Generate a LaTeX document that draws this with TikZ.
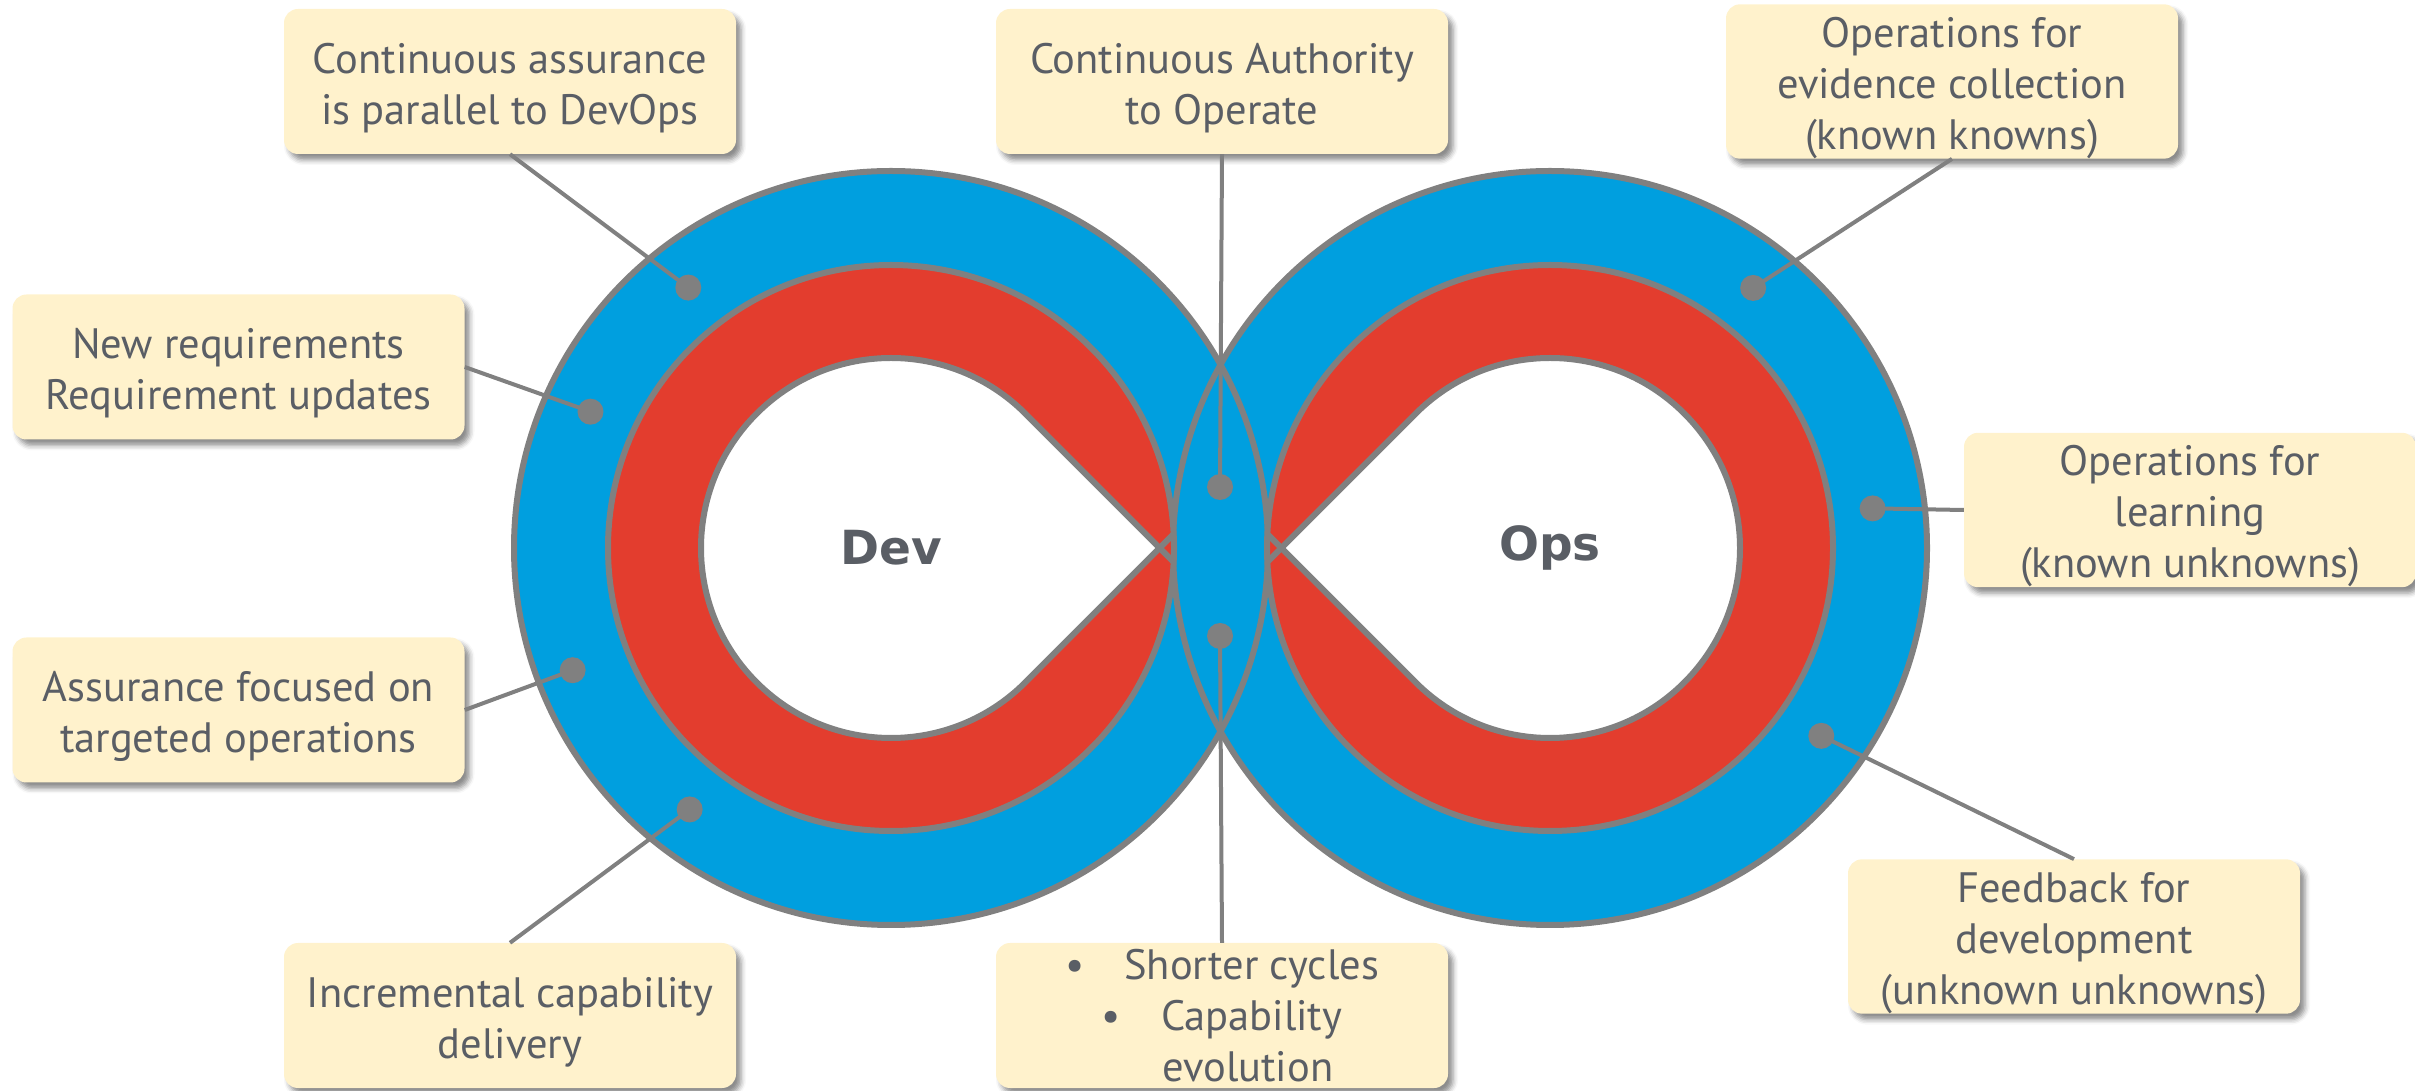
\documentclass[tikz,border=0pt]{standalone}
\usepackage{fontspec}
\setmainfont{PT Sans}
\newfontfamily\hubfont{DejaVu Sans}
\usetikzlibrary{shadows.blur,calc}
\definecolor{ringblue}{HTML}{009FDF}
\definecolor{ringred}{HTML}{E33D2E}
\definecolor{edgegray}{HTML}{808080}
\definecolor{notefill}{HTML}{FFF2CC}
\definecolor{notetext}{HTML}{5A5E65}
% taller first line, so the text sits a little low in its box
\newcommand\firstline{\rule{0pt}{43pt}}
\tikzset{
  ringedge/.style={draw=edgegray, line width=6pt, line join=round},
  lead/.style={draw=edgegray, line width=4pt},
  ringdot/.style={circle, fill=edgegray, minimum size=26pt, inner sep=0pt},
  note/.style={rounded corners=14pt, fill=notefill, text=notetext, align=center,
    font=\fontsize{42.5}{51}\selectfont, minimum width=452pt, minimum height=145pt,
    inner sep=0pt,
    blur shadow={shadow xshift=5pt, shadow yshift=-6pt, shadow blur radius=5pt, shadow opacity=45}},
  hub/.style={font=\hubfont\bfseries\fontsize{47}{47}\selectfont, text=notetext}
}
\begin{document}
\begin{tikzpicture}[x=1pt,y=1pt]
\useasboundingbox (0,0) rectangle (2415,1090);
\coordinate (dev) at (891,542);
\coordinate (ops) at (1550,542);

% outer blue bands
\fill[ringblue] (dev) circle (377) (ops) circle (377);
\draw[ringedge] (dev) circle (377) (ops) circle (377);
% red bands
\draw[ringedge, fill=ringred] (dev) circle (283);
\draw[ringedge, fill=ringred] (ops) circle (283);
% teardrop holes, with the crossing strokes running on to the red edge
\draw[ringedge, fill=white] ($(dev)+(45:190)$) arc[start angle=45, end angle=315, radius=190]
  -- ($(dev)+(268.7,0)$) -- cycle;
\draw[ringedge] ($(dev)+(268.7,0)$) -- ($(dev)+(282.7,-14)$)
  ($(dev)+(268.7,0)$) -- ($(dev)+(282.7,14)$);
\draw[ringedge, fill=white] ($(ops)+(135:190)$) arc[start angle=135, end angle=-135, radius=190]
  -- ($(ops)+(-268.7,0)$) -- cycle;
\draw[ringedge] ($(ops)+(-268.7,0)$) -- ($(ops)+(-282.7,-14)$)
  ($(ops)+(-268.7,0)$) -- ($(ops)+(-282.7,14)$);

\node[hub] (devlabel) at (dev) {Dev};
\node[hub] (opslabel) at (ops) {Ops};

% callout boxes
\node[note] (assure) at (510,1008.5) {\firstline Continuous assurance\\is parallel to DevOps};
\node[note] (cato) at (1222,1008.5) {\firstline Continuous Authority\\to Operate};
\node[note] (evid) at (1952,1008.5) {\firstline Operations for\\evidence collection\\(known knowns)};
\node[note] (newreq) at (238.5,723) {\firstline New requirements\\Requirement updates};
\node[note] (learn) at (2190,580) {\firstline Operations for\\learning\\(known unknowns)};
\node[note] (target) at (238.5,380) {\firstline Assurance focused on\\targeted operations};
\node[note] (incr) at (510,74.5) {\firstline Incremental capability\\delivery};
\node[note] (cycles) at (1222,74.5) {\textbullet\hspace*{40pt}Shorter cycles\\
  \textbullet\hspace*{40pt}Capability\\\hspace*{52pt}evolution};
\node[note] (feed) at (2074,153.5) {\firstline Feedback for\\development\\(unknown unknowns)};

% dots on the blue bands
\node[ringdot] (dassure) at ($(dev)+(127.9:330)$) {};
\node[ringdot] (dnewreq) at ($(dev)+(155.6:330)$) {};
\node[ringdot] (dtarget) at ($(dev)+(201:341)$) {};
\node[ringdot] (dincr) at ($(dev)+(232.4:330)$) {};
\node[ringdot] (dcato) at (1220,603) {};
\node[ringdot] (dcycles) at (1220,454) {};
\node[ringdot] (devid) at ($(ops)+(52:330)$) {};
\node[ringdot] (dlearn) at ($(ops)+(7:325)$) {};
\node[ringdot] (dfeed) at ($(ops)+(-34.7:330)$) {};

% leader lines
\draw[lead] (assure.south) -- (dassure.center);
\draw[lead] (newreq.east) -- (dnewreq.center);
\draw[lead] (target.east) -- (dtarget.center);
\draw[lead] (incr.north) -- (dincr.center);
\draw[lead] (cato.south) -- (dcato.center);
\draw[lead] (cycles.north) -- (dcycles.center);
\draw[lead] (evid.south) -- (devid.center);
\draw[lead] (learn.west) -- (dlearn.center);
\draw[lead] (feed.north) -- (dfeed.center);
\end{tikzpicture}
\end{document}
